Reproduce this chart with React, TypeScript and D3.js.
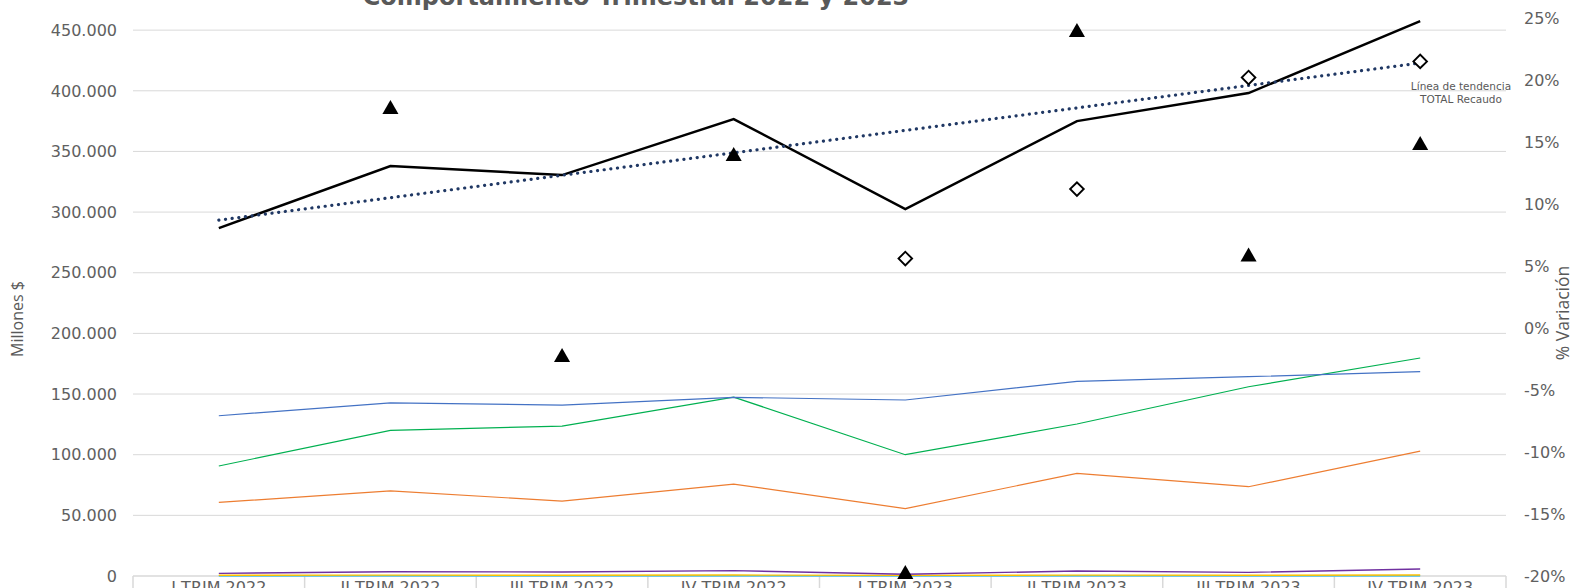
import React from "react";
import * as d3 from "d3";

const categories = [
  "I TRIM 2022", "II TRIM 2022", "III TRIM 2022", "IV TRIM 2022",
  "I TRIM 2023", "II TRIM 2023", "III TRIM 2023", "IV TRIM 2023",
];
const totalRecaudo = [286800, 337900, 330500, 376700, 302500, 375000, 398100, 457400];
const serieAzul = [132100, 142800, 140900, 147300, 145100, 160500, 164300, 168400];
const serieVerde = [90700, 120100, 123600, 147500, 100000, 125300, 156000, 179700];
const serieNaranja = [60700, 70100, 61800, 75800, 55500, 84600, 73600, 103000];
const serieMorada = [2200, 3500, 3300, 4400, 1400, 4100, 3000, 5800];
const serieAmarilla = [600, 700, 600, 800, 500, 700, 600, 800];
const serieCian = [100, 100, 100, 100, 100, 100, 100, 100];
const variacionTrimestral = [null, 0.178, -0.022, 0.14, -0.197, 0.24, 0.059, 0.149];
const variacionAnual = [null, null, null, null, 0.056, 0.112, 0.202, 0.215];
const leftTicks = [0, 50000, 100000, 150000, 200000, 250000, 300000, 350000, 400000, 450000];
const rightTicks = [-0.2, -0.15, -0.1, -0.05, 0, 0.05, 0.1, 0.15, 0.2, 0.25];

const W = 1572;
const H = 588;
const PL = 133;
const PR = 1506;
const PT = 18;
const PB = 576;
const TXT = "#595959";
const GRID = "#d9d9d9";

const locale = d3.formatLocale({
  decimal: ",",
  thousands: ".",
  grouping: [3],
  currency: ["$", ""],
  minus: "-",
});
const fmtL = locale.format(",d");
const fmtR = locale.format(".0%");

export default function App() {
  const x = d3.scaleBand<string>().domain(categories).range([PL, PR]).padding(0);
  const cx = (i: number) => (x(categories[i]) as number) + x.bandwidth() / 2;
  const yL = d3.scaleLinear().domain([0, 460000]).range([PB, PT]);
  const yR = d3.scaleLinear().domain([-0.2, 0.25]).range([PB, PT]);

  const lineL = d3
    .line<number>()
    .x((_, i) => cx(i))
    .y((d) => yL(d));

  // linear trend of total
  const n = totalRecaudo.length;
  const mx = d3.mean(d3.range(n)) as number;
  const my = d3.mean(totalRecaudo) as number;
  let sxy = 0;
  let sxx = 0;
  totalRecaudo.forEach((v, i) => {
    sxy += (i - mx) * (v - my);
    sxx += (i - mx) * (i - mx);
  });
  const slope = sxy / sxx;
  const intercept = my - slope * mx;
  const trend = d3.range(n).map((i) => intercept + slope * i);

  const tri = d3.symbol().type(d3.symbolTriangle).size(112)() as string;
  const dia = d3.symbol().type(d3.symbolSquare).size(92)() as string;

  const series = [
    { data: serieCian, color: "#00B0F0", w: 1.4 },
    { data: serieAmarilla, color: "#FFC000", w: 1.4 },
    { data: serieMorada, color: "#7030A0", w: 1.4 },
    { data: serieNaranja, color: "#ED7D31", w: 1.2 },
    { data: serieVerde, color: "#00B050", w: 1.2 },
    { data: serieAzul, color: "#4472C4", w: 1.2 },
  ];

  return (
    <svg
      width={W}
      height={H}
      style={{ position: "absolute", left: 0, top: 0, background: "#fff" }}
      fontFamily="'DejaVu Sans', Verdana, sans-serif"
    >
      <text x={636} y={5} textAnchor="middle" fontSize={24} fontWeight="bold" fill={TXT}>
        Comportamiento Trimestral 2022 y 2023
      </text>

      {leftTicks.filter((t) => t > 0).map((t) => (
        <line key={"g" + t} x1={PL} x2={PR} y1={yL(t)} y2={yL(t)} stroke={GRID} strokeWidth={1} />
      ))}
      <line x1={PL} x2={PR} y1={PB} y2={PB} stroke={GRID} strokeWidth={1.5} />
      {categories.map((c, i) => (
        <line
          key={"sep" + i}
          x1={x(c) as number}
          x2={x(c) as number}
          y1={PB}
          y2={H + 10}
          stroke={GRID}
          strokeWidth={1.5}
        />
      ))}
      <line x1={PR} x2={PR} y1={PB} y2={H + 10} stroke={GRID} strokeWidth={1.5} />

      {leftTicks.map((t) => (
        <text key={"lt" + t} x={117} y={yL(t)} dy="0.36em" textAnchor="end" fontSize={16} fill="#606060">
          {fmtL(t)}
        </text>
      ))}
      {rightTicks.map((t) => (
        <text key={"rt" + t} x={1524} y={yR(t)} dy="0.36em" textAnchor="start" fontSize={16} fill="#606060">
          {fmtR(t)}
        </text>
      ))}
      {categories.map((c, i) => (
        <text key={"c" + i} x={cx(i)} y={593} textAnchor="middle" fontSize={16} fill="#606060">
          {c}
        </text>
      ))}

      <text
        transform={`translate(23,319) rotate(-90)`}
        textAnchor="middle"
        fontSize={16}
        fontFamily="'Open Sans', sans-serif"
        fill={TXT}
      >
        Millones $
      </text>
      <text
        transform={`translate(1569,313) rotate(-90)`}
        textAnchor="middle"
        fontSize={17.5}
        fontFamily="'Open Sans', sans-serif"
        fill={TXT}
      >
        % Variación
      </text>

      {series.map((s, k) => (
        <path key={"s" + k} d={lineL(s.data) as string} fill="none" stroke={s.color} strokeWidth={s.w} />
      ))}

      <path d={lineL(totalRecaudo) as string} fill="none" stroke="#000" strokeWidth={2.5} />
      <path
        d={lineL(trend) as string}
        fill="none"
        stroke="#203864"
        strokeWidth={3.2}
        strokeDasharray="0.1 6.6"
        strokeLinecap="round"
      />
      <text x={1461} y={90} textAnchor="middle" fontSize={10.5} fill={TXT}>
        Línea de tendencia
      </text>
      <text x={1461} y={103} textAnchor="middle" fontSize={10.5} fill={TXT}>
        TOTAL Recaudo
      </text>

      {variacionTrimestral.map((v, i) =>
        v === null ? null : (
          <path key={"tr" + i} d={tri} transform={`translate(${cx(i)},${yR(v) + 2})`} fill="#000" />
        )
      )}
      {variacionAnual.map((v, i) =>
        v === null ? null : (
          <path
            key={"dm" + i}
            d={dia}
            transform={`translate(${cx(i)},${yR(v)}) rotate(45)`}
            fill="#fff"
            stroke="#000"
            strokeWidth={1.9}
          />
        )
      )}
    </svg>
  );
}
